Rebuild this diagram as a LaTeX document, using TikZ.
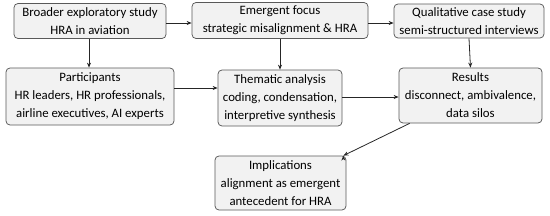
\documentclass[tikz,border=0pt]{standalone}
\usepackage{fontspec}
\setmainfont{Carlito}
\usetikzlibrary{arrows.meta}
\begin{document}
\begin{tikzpicture}[x=1pt,y=-1pt,
  box/.style={draw=black!65, fill=black!5, rounded corners=4pt, line width=0.75pt, align=center, inner sep=0pt, text=black, font=\fontsize{12.8}{18}\selectfont},
  conn/.style={draw=black!85, line width=0.8pt, -{Stealth[length=5pt,width=4pt]}}]
\useasboundingbox (0,0) rectangle (550,215);
\node[box, minimum width=152pt, minimum height=35pt] (b1) at (90,21) {Broader exploratory study\\HRA in aviation};
\node[box, minimum width=176pt, minimum height=36pt] (b2) at (280,20.5) {Emergent focus\\strategic misalignment \& HRA};
\node[box, minimum width=150pt, minimum height=34pt] (b3) at (469,21) {Qualitative case study\\semi-structured interviews};
\node[box, minimum width=168pt, minimum height=57pt] (b4) at (90,96.5) {Participants\\HR leaders, HR professionals,\\airline executives, AI experts};
\node[box, minimum width=124pt, minimum height=56pt] (b5) at (280,98) {Thematic analysis\\coding, condensation,\\interpretive synthesis};
\node[box, minimum width=143pt, minimum height=55pt] (b6) at (470.5,95.5) {Results\\disconnect, ambivalence,\\data silos};
\node[box, minimum width=131pt, minimum height=54pt] (b7) at (280.5,183) {Implications\\alignment as emergent\\antecedent for HRA};
\draw[conn] (b1.east |- 0,23) -- (b2.west |- 0,23);
\draw[conn] (b2.east |- 0,23) -- (b3.west |- 0,23);
\draw[conn] (b1.south -| 89,0) -- (b4.north -| 89,0);
\draw[conn] (b2.south) -- (b5.north);
\draw[conn] (b3.south) -- (b6.north);
\draw[conn] (b4.east |- 0,88) -- (b5.west |- 0,88);
\draw[conn] (b5.east |- 0,97) -- (b6.west |- 0,97);
\draw[conn] (b6.south west) ++(11,0) coordinate (r1) (b7.north east) ++(-3,0) coordinate (i1);
\draw[conn] (r1) -- (i1);
\end{tikzpicture}
\end{document}
